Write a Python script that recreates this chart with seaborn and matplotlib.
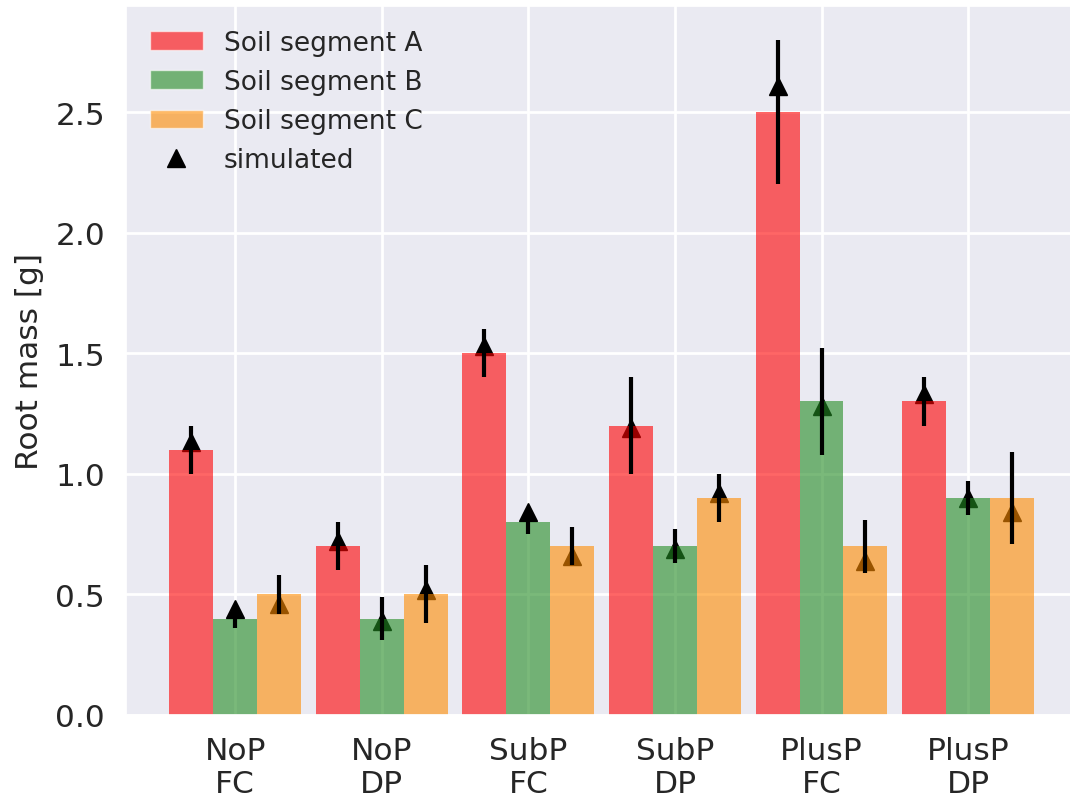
import numpy as np
import pandas as pd
import matplotlib
matplotlib.use("Agg")
import matplotlib.pyplot as plt
import seaborn as sns
from matplotlib.patches import Patch
from matplotlib.lines import Line2D

# Treatments (x categories) and soil segments (hue levels)
treatments = ["NoP\nFC", "NoP\nDP", "SubP\nFC", "SubP\nDP", "PlusP\nFC", "PlusP\nDP"]
segments = ["Soil segment A", "Soil segment B", "Soil segment C"]

# Measured root mass [g] per segment
measured_a = [1.10, 0.70, 1.50, 1.20, 2.50, 1.30]
measured_b = [0.40, 0.40, 0.80, 0.70, 1.30, 0.90]
measured_c = [0.50, 0.50, 0.70, 0.90, 0.70, 0.90]

# Standard deviation of the measurements
error_a = [0.10, 0.10, 0.10, 0.20, 0.30, 0.10]
error_b = [0.04, 0.09, 0.05, 0.07, 0.22, 0.07]
error_c = [0.08, 0.12, 0.08, 0.10, 0.11, 0.19]

# Simulated root mass [g]
simulated_a = [1.13, 0.72, 1.53, 1.19, 2.61, 1.33]
simulated_b = [0.44, 0.39, 0.84, 0.69, 1.28, 0.90]
simulated_c = [0.46, 0.52, 0.66, 0.92, 0.64, 0.84]

colors = ["red", "forestgreen", "darkorange"]
bar_alpha = 0.6

measured = [measured_a, measured_b, measured_c]
errors = [error_a, error_b, error_c]
simulated = [simulated_a, simulated_b, simulated_c]

df = pd.DataFrame({
    "treatment": treatments * len(segments),
    "segment": np.repeat(segments, len(treatments)),
    "mass": np.concatenate(measured),
})

sns.set_theme(style="darkgrid")
plt.rcParams["font.family"] = ["DejaVu Sans"]
plt.rcParams["grid.linewidth"] = 2.0

fig = plt.figure(figsize=(10.7, 8.04), dpi=100)
ax = fig.add_axes([0.1178, 0.1095, 0.889, 0.8818])

sns.barplot(
    data=df, x="treatment", y="mass", hue="segment",
    order=treatments, hue_order=segments, palette=colors,
    alpha=bar_alpha, width=0.9, saturation=1, errorbar=None,
    linewidth=0, legend=False, ax=ax,
)

# Simulated values (beneath the translucent bars) and measurement spread (on top)
for cont, meas, err, sim in zip(ax.containers, measured, errors, simulated):
    xs = [p.get_x() + p.get_width() / 2 for p in cont]
    ax.plot(xs, sim, linestyle="none", marker="^", color="black",
            markersize=13.5, zorder=0.9)
    ax.errorbar(xs, meas, yerr=err, fmt="none", ecolor="black",
                elinewidth=3, capsize=0, zorder=4)

# Axis limits with the usual 5% data margin
lefts = [p.get_x() for p in ax.patches]
rights = [p.get_x() + p.get_width() for p in ax.patches]
span = max(rights) - min(lefts)
ax.set_xlim(min(lefts) - 0.05 * span, max(rights) + 0.05 * span)
top = max(m + e for meas, err in zip(measured, errors) for m, e in zip(meas, err))
ax.set_ylim(0, top * 1.05)

# Grid on both axes, behind everything
ax.set_axisbelow(True)
ax.grid(True, axis="both", color="white", linewidth=2.0)

ax.set_xlabel("")
ax.set_ylabel("Root mass [g]", fontsize=22.5, labelpad=8)
ax.tick_params(axis="both", labelsize=22.5, length=0, pad=15)

handles = [Patch(facecolor=c, alpha=bar_alpha, label=s) for c, s in zip(colors, segments)]
handles.append(Line2D([], [], linestyle="none", marker="^", color="black",
                      markersize=13.5, label="simulated"))
ax.legend(handles=handles, loc="upper left", frameon=False, fontsize=19)

fig.savefig("out.png", dpi=100)
